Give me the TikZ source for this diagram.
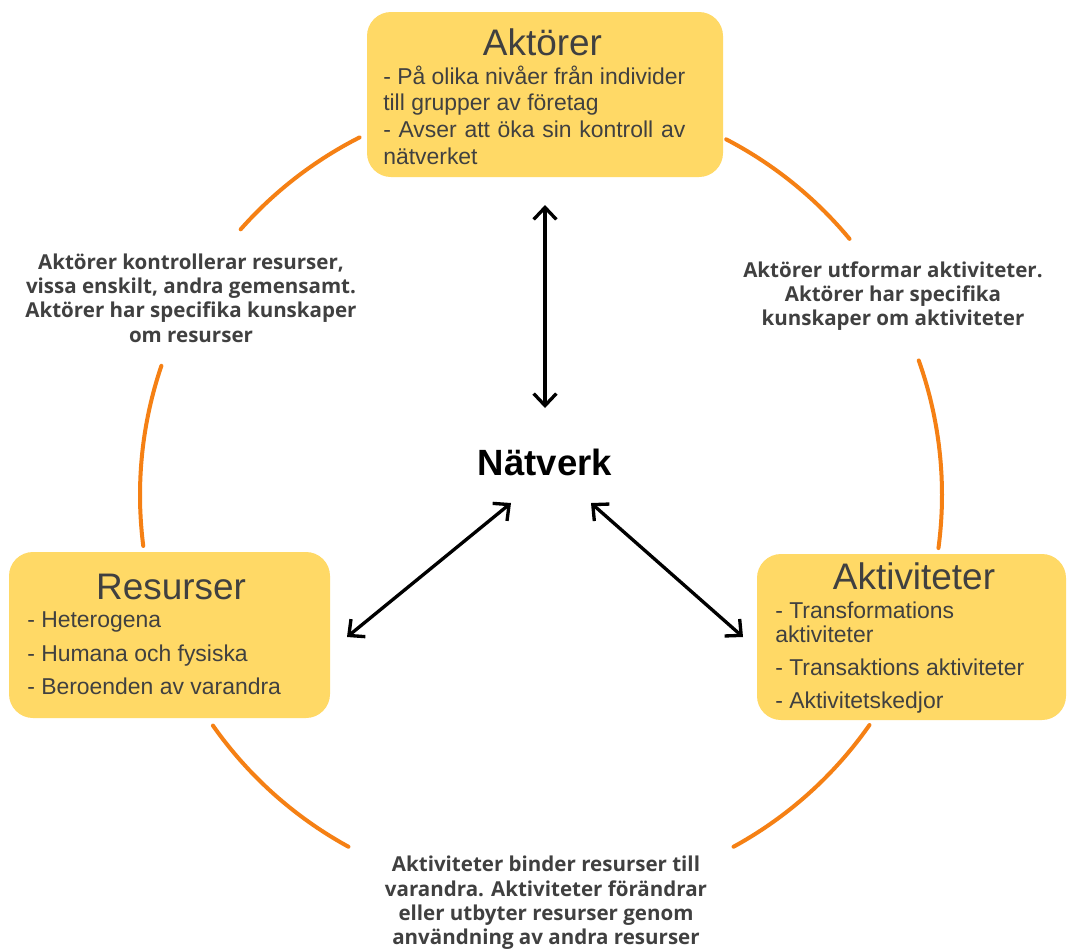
\documentclass[tikz,border=0pt]{standalone}
\usepackage{fontspec}
\setmainfont{Liberation Sans}
\newfontfamily\labelfont{Open Sans}
\usetikzlibrary{arrows.meta}
\definecolor{boxfill}{RGB}{255,217,102}
\definecolor{ringorange}{RGB}{245,128,20}
\definecolor{txt}{RGB}{64,64,64}
\begin{document}
\begin{tikzpicture}[x=0.75pt,y=-0.75pt,
  box/.style={fill=boxfill, draw=none, rounded corners=18pt, inner sep=0pt},
  boxtitle/.style={font=\fontsize{27.7}{32}\selectfont, text=txt, anchor=base, inner sep=0pt},
  item/.style={font=\fontsize{17.2}{20}\selectfont, text=txt, anchor=base west, inner sep=0pt},
  relation/.style={font=\labelfont\bfseries\fontsize{15.4}{18.2}\selectfont, text=txt, align=center, inner sep=0pt},
  ring/.style={draw=ringorange, line width=3pt, line cap=round},
  biarrow/.style={draw=black, line width=2.5pt, {Straight Barb[length=9pt,width=17pt]}-{Straight Barb[length=9pt,width=17pt]}}
]
\fill[white] (0,0) rectangle (1067,951);
\useasboundingbox (0,0) rectangle (1067,951);

% ring arcs
\draw[ring] plot[domain=116.9:138.5, samples=40] ({541+401*cos(\x)},{495-401*sin(\x)});
\draw[ring] plot[domain=161.2:187.3, samples=40] ({541+401*cos(\x)},{495-401*sin(\x)});
\draw[ring] plot[domain=215.1:241.3, samples=40] ({541+401*cos(\x)},{495-401*sin(\x)});
\draw[ring] plot[domain=298.7:325, samples=40] ({541+401*cos(\x)},{495-401*sin(\x)});
\draw[ring] plot[domain=-7.6:19.6, samples=40] ({541+401*cos(\x)},{495-401*sin(\x)});
\draw[ring] plot[domain=39.7:62.5, samples=40] ({541+401*cos(\x)},{495-401*sin(\x)});

% boxes
\node[box, minimum width=267pt, minimum height=123.75pt] (aktorer) at (545,94.5) {};
\node[box, minimum width=240.75pt, minimum height=124.5pt] (resurser) at (169.5,635) {};
\node[box, minimum width=231.75pt, minimum height=124.5pt] (aktiviteter) at (911.5,637) {};

% Aktörer
\node[boxtitle] (aktorerTitle) at (542.5,55) {Aktörer};
\node[item] (a1) at (383,84) {- På olika nivåer från individer};
\node[item] (a2) at (383,110) {till grupper av företag};
\node[item] (a3) at (383,137) {\makebox[226.5pt][s]{- Avser att öka sin kontroll av}};
\node[item] (a4) at (383,164) {nätverket};

% Resurser
\node[boxtitle] (resurserTitle) at (171,599) {Resurser};
\node[item] (r1) at (27,627) {- Heterogena};
\node[item] (r2) at (27,661) {- Humana och fysiska};
\node[item] (r3) at (27,694) {- Beroenden av varandra};

% Aktiviteter
\node[boxtitle] (aktiviteterTitle) at (914,589) {Aktiviteter};
\node[item] (k1) at (775,618) {- Transformations};
\node[item] (k2) at (775,642) {aktiviteter};
\node[item] (k3) at (775,675) {- Transaktions aktiviteter};
\node[item] (k4) at (775,708) {- Aktivitetskedjor};

% centre
\node[font=\bfseries\fontsize{27.4}{32}\selectfont, anchor=base, inner sep=0pt] (natverk) at (545,475) {Nätverk};

% relation labels
\node[relation] (relAR) at (191,298) {Aktörer kontrollerar resurser,\\vissa enskilt, andra gemensamt.\\Aktörer har specifika kunskaper\\om resurser};
\node[relation] (relAA) at (893,296) {Aktörer utformar aktiviteter.\\Aktörer har specifika\\kunskaper om aktiviteter};
\node[relation] (relRA) at (546,903) {Aktiviteter binder resurser till\\varandra. Aktiviteter förändrar\\eller utbyter resurser genom\\användning av andra resurser};

% arrows
\coordinate (upTip) at (545,205);
\coordinate (centreTop) at (545,408);
\coordinate (leftTip) at (347,637);
\coordinate (centreLeft) at (511,503);
\coordinate (centreRight) at (591,503);
\coordinate (rightTip) at (743,637);
\draw[biarrow] (upTip) -- (centreTop);
\draw[biarrow] (leftTip) -- (centreLeft);
\draw[biarrow] (centreRight) -- (rightTip);
\end{tikzpicture}
\end{document}
